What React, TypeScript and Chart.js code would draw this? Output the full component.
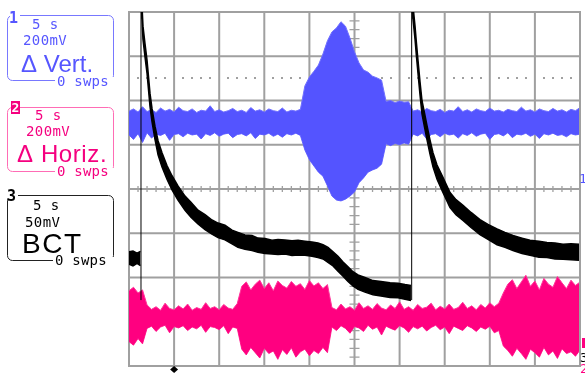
import React, { useEffect, useRef } from 'react';
import { Chart, registerables } from 'chart.js';

Chart.register(...registerables);

// ---------------- data (x: seconds, 5 s/div; y: divisions from centre) ----------------
const TIME_S = Array.from({ length: 101 }, (_, i) => i * 0.5);

// Channel 1 (Δ Vert.) noise envelope
const CH1_HI = [
  1.76, 1.81, 1.74, 1.86, 1.75, 1.79, 1.73, 1.83, 1.76, 1.80,
  1.74, 1.85, 1.77, 1.75, 1.81, 1.73, 1.78, 1.76, 1.88, 1.75,
  1.79, 1.74, 1.77, 1.82, 1.75, 1.78, 1.73, 1.84, 1.76, 1.79,
  1.74, 1.81, 1.77, 1.75, 1.83, 1.74, 1.78, 1.76, 1.80,
  2.33, 2.53, 2.66, 2.80, 3.05, 3.35, 3.55, 3.64, 3.78, 3.68, 3.41, 3.10, 2.85, 2.69, 2.64, 2.55, 2.51, 2.46,
  1.98, 2.00, 1.95, 1.99, 1.96, 1.97,
  1.76, 1.79, 1.74, 1.82, 1.77, 1.75, 1.80, 1.73, 1.78, 1.76,
  1.86, 1.75, 1.79, 1.74, 1.81, 1.77, 1.75, 1.83, 1.76, 1.78,
  1.74, 1.80, 1.77, 1.75, 1.85, 1.76, 1.79, 1.74, 1.81, 1.77,
  1.75, 1.82, 1.76, 1.79, 1.74, 1.80, 1.77, 1.84,
];
const CH1_LO = [
  1.22, 1.12, 1.25, 1.05, 1.27, 1.15, 1.24, 1.21, 1.26, 1.10,
  1.23, 1.25, 1.18, 1.26, 1.22, 1.24, 1.13, 1.25, 1.21, 1.27,
  1.19, 1.24, 1.26, 1.16, 1.23, 1.25, 1.20, 1.27, 1.14, 1.24,
  1.22, 1.26, 1.19, 1.24, 1.17, 1.25, 1.22, 1.26, 1.21,
  0.88, 0.66, 0.52, 0.38, 0.29, 0.07, -0.16, -0.25, -0.27, -0.23, -0.16, -0.07, 0.14, 0.25, 0.38, 0.43, 0.47, 0.56,
  1.02, 0.98, 1.03, 1.00, 1.04, 1.01,
  1.24, 1.20, 1.26, 1.13, 1.23, 1.25, 1.18, 1.26, 1.22, 1.24,
  1.15, 1.25, 1.21, 1.27, 1.19, 1.24, 1.26, 1.12, 1.23, 1.25,
  1.20, 1.27, 1.16, 1.24, 1.22, 1.26, 1.19, 1.24, 1.14, 1.25,
  1.22, 1.26, 1.21, 1.23, 1.18, 1.25, 1.22, 1.24,
];

// Channel 2 (Δ Horiz.) noise envelope
const CH2_HI = [
  -2.30, -2.22, -2.35, -2.28,
  -2.62, -2.72, -2.66, -2.74, -2.58, -2.70, -2.73, -2.64, -2.71, -2.60, -2.74, -2.68, -2.72, -2.57, -2.70, -2.66, -2.73, -2.61, -2.69, -2.72, -2.59,
  -2.20, -2.10, -2.28, -2.15, -2.06, -2.25, -2.12, -2.30, -2.08, -2.18, -2.24, -2.09, -2.20, -2.14, -2.27, -2.07, -2.19, -2.12, -2.25, -2.16,
  -2.68, -2.73, -2.60, -2.71, -2.66, -2.74, -2.57, -2.70, -2.64, -2.72, -2.59, -2.69, -2.73, -2.62, -2.70, -2.55, -2.72, -2.66, -2.74, -2.61,
  -2.70, -2.67, -2.58, -2.73, -2.65, -2.71, -2.60, -2.72, -2.68, -2.56, -2.70, -2.64, -2.73, -2.61, -2.69, -2.57, -2.66, -2.58, -2.35,
  -2.15, -2.05, -2.25, -2.10, -1.95, -2.20, -2.08, -2.28, -2.02, -2.15, -2.22, -1.98, -2.12, -2.25, -2.06, -2.18, -2.10,
];
const CH2_LO = [
  -3.45, -3.53, -3.38, -3.50,
  -3.15, -3.10, -3.22, -3.12, -3.08, -3.25, -3.11, -3.14, -3.09, -3.20, -3.12, -3.16, -3.08, -3.24, -3.11, -3.13, -3.18, -3.09, -3.27, -3.12, -3.15,
  -3.62, -3.75, -3.58, -3.70, -3.82, -3.60, -3.72, -3.66, -3.85, -3.63, -3.74, -3.59, -3.80, -3.68, -3.62, -3.77, -3.65, -3.72, -3.58, -3.70,
  -3.12, -3.20, -3.09, -3.15, -3.26, -3.11, -3.14, -3.22, -3.08, -3.17, -3.12, -3.30, -3.10, -3.15, -3.19, -3.09, -3.14, -3.24, -3.11, -3.16,
  -3.10, -3.21, -3.13, -3.08, -3.18, -3.12, -3.27, -3.10, -3.15, -3.20, -3.09, -3.14, -3.22, -3.12, -3.17, -3.10, -3.25, -3.20, -3.55,
  -3.65, -3.78, -3.60, -3.72, -3.85, -3.62, -3.70, -3.80, -3.58, -3.75, -3.66, -3.83, -3.61, -3.72, -3.68, -3.78, -3.64,
];

// Channel 3 (BCT) — before first injection
const BCT_PRE_T = [0, 0.44, 0.89, 1.27];
const BCT_PRE_HI = [-1.42, -1.40, -1.45, -1.41];
const BCT_PRE_LO = [-1.70, -1.74, -1.68, -1.73];

// BCT — first fill decay
const BCT_A_T = [
  1.36, 1.44, 1.55, 1.77, 2.00, 2.33, 2.55, 2.88, 3.22, 3.66,
  4.21, 4.77, 5.43, 6.21, 6.87, 7.65, 8.43, 9.20, 9.87, 10.64,
  11.42, 12.08, 12.86, 13.64, 14.30, 15.08, 15.85, 16.52, 17.29, 18.07,
  18.74, 19.51, 20.29, 20.95, 21.51, 22.06, 22.62, 23.17, 23.73, 24.28,
  24.83, 25.39, 26.16, 27.05, 27.94, 28.94, 29.82, 30.60, 31.26,
];
const BCT_A_HI = [
  4.87, 4.15, 3.68, 3.29, 2.91, 2.16, 1.82, 1.42, 1.09, 0.82,
  0.53, 0.30, 0.07, -0.16, -0.30, -0.48, -0.58, -0.70, -0.77, -0.82,
  -0.93, -0.98, -1.04, -1.05, -1.11, -1.12, -1.16, -1.14, -1.15, -1.17,
  -1.16, -1.18, -1.20, -1.22, -1.26, -1.32, -1.42, -1.52, -1.65, -1.76,
  -1.87, -1.94, -2.00, -2.07, -2.09, -2.12, -2.13, -2.16, -2.18,
];
const BCT_A_LO = [
  4.57, 3.85, 3.38, 2.99, 2.61, 1.86, 1.52, 1.12, 0.77, 0.50,
  0.22, -0.02, -0.25, -0.48, -0.64, -0.79, -0.92, -1.02, -1.10, -1.15,
  -1.24, -1.32, -1.36, -1.39, -1.43, -1.46, -1.47, -1.48, -1.47, -1.50,
  -1.49, -1.50, -1.52, -1.55, -1.58, -1.66, -1.74, -1.86, -1.97, -2.09,
  -2.19, -2.27, -2.33, -2.39, -2.42, -2.45, -2.46, -2.49, -2.52,
];

// BCT — second fill decay
const BCT_B_T = [
  31.40, 31.48, 31.71, 31.87, 32.04, 32.26, 32.48, 32.76, 33.04, 33.37,
  33.70, 34.15, 34.70, 35.59, 36.25, 37.03, 37.92, 38.91, 39.80, 40.80,
  41.68, 42.57, 43.57, 44.46, 45.45, 46.34, 47.23, 48.12, 49.00, 49.89,
];
const BCT_B_HI = [
  4.87, 4.15, 3.68, 3.29, 2.91, 2.43, 2.00, 1.72, 1.43, 1.11,
  0.82, 0.54, 0.31, -0.08, -0.24, -0.37, -0.53, -0.69, -0.80, -0.90,
  -0.98, -1.05, -1.11, -1.16, -1.18, -1.21, -1.22, -1.25, -1.24, -1.25,
];
const BCT_B_LO = [
  4.57, 3.85, 3.38, 2.99, 2.61, 2.13, 1.70, 1.40, 1.11, 0.79,
  0.50, 0.22, -0.03, -0.42, -0.58, -0.71, -0.87, -1.03, -1.14, -1.26,
  -1.32, -1.39, -1.46, -1.50, -1.54, -1.55, -1.58, -1.59, -1.60, -1.61,
];

// injection kicks (thin vertical BCT lines)
const INJECTION_T = [1.33, 31.34];
const INJECTION_SPAN = [-2.51, 4.72];
const TRIGGER_T = 5;
const DOTTED_LEVEL = 2.5;

// channel panel texts
const CHANNEL_IDS = ['1', '2', '3'];
const CHANNEL_TIMEBASE = ['5 s', '5 s', '5 s'];
const CHANNEL_SCALE = ['200mV', '200mV', '50mV'];
const CHANNEL_NAMES = ['Δ Vert.', 'Δ Horiz.', 'BCT'];
const CHANNEL_SWEEPS = ['0 swps', '0 swps', '0 swps'];

// ---------------- styles / layout ----------------
const BLUE = '#5454ff';
const PINK = '#ff0080';
const GRID = '#a0a0a0';
const MONO = '"DejaVu Sans Mono", monospace';
const SANS = '"Liberation Sans", Arial, sans-serif';

const PANEL = [
  { top: 15, bottom: 80, border: '#7878ff', text: '#5656ff', inverse: false, idX: 11, idBase: 23,
    tbX: 32, tbBase: 29, scX: 23, scBase: 45, nmX: 21, nmBase: 72, nmSize: 24, nmSp: 0, swX: 57, swBase: 86 },
  { top: 107, bottom: 171, border: '#ff6cb5', text: '#f5007f', inverse: true, idX: 12, idBase: 112,
    tbX: 35, tbBase: 120, scX: 26, scBase: 136, nmX: 17, nmBase: 162, nmSize: 24, nmSp: 0.6, swX: 57, swBase: 176 },
  { top: 195, bottom: 260, border: '#222222', text: '#000000', inverse: false, idX: 9, idBase: 201,
    tbX: 33, tbBase: 210, scX: 25, scBase: 227, nmX: 22, nmBase: 253, nmSize: 28, nmSp: 1.5, swX: 55, swBase: 265 },
];

function pts(t: number[], v: number[]) {
  return t.map((x, i) => ({ x, y: v[i] }));
}

function band(label: string, t: number[], hi: number[], lo: number[], fillColor: string, edge: string, w: number) {
  return [
    { label: label + ' max', data: pts(t, hi), borderColor: edge, borderWidth: w, backgroundColor: fillColor, fill: '+1', pointRadius: 0 },
    { label: label + ' min', data: pts(t, lo), borderColor: edge, borderWidth: w, backgroundColor: fillColor, fill: false, pointRadius: 0 },
  ];
}

const scopePlugin = {
  id: 'scope',
  beforeDraw(chart: any) {
    const { ctx, chartArea: a, scales } = chart;
    const x = scales.x, y = scales.y;
    ctx.save();
    ctx.fillStyle = '#ffffff';
    ctx.fillRect(0, 0, chart.width, chart.height);
    ctx.strokeStyle = GRID;
    ctx.lineWidth = 2;
    ctx.beginPath();
    for (let k = 0; k <= 10; k++) {
      const px = x.getPixelForValue(k * 5);
      ctx.moveTo(px, a.top);
      ctx.lineTo(px, a.bottom);
    }
    for (let k = -4; k <= 4; k++) {
      const py = y.getPixelForValue(k);
      ctx.moveTo(a.left, py);
      ctx.lineTo(a.right, py);
    }
    ctx.stroke();
    ctx.strokeRect(a.left, a.top, a.right - a.left, a.bottom - a.top);
    // centre-axis minor ticks
    ctx.lineWidth = 1.3;
    ctx.beginPath();
    const cy = y.getPixelForValue(0);
    const cx = x.getPixelForValue(25);
    for (let t = 1; t < 50; t++) {
      if (t % 5 === 0) continue;
      const px = x.getPixelForValue(t);
      ctx.moveTo(px, cy - 3);
      ctx.lineTo(px, cy + 3);
    }
    for (let k = -19; k <= 19; k++) {
      if (k % 5 === 0) continue;
      const py = y.getPixelForValue(k * 0.2);
      ctx.moveTo(cx - 5, py);
      ctx.lineTo(cx + 5, py);
    }
    ctx.stroke();
    // dotted reference line
    ctx.fillStyle = GRID;
    const dy = y.getPixelForValue(DOTTED_LEVEL);
    for (let t = 1; t < 50; t++) {
      if (t % 5 === 0) continue;
      const px = x.getPixelForValue(t);
      ctx.fillRect(Math.round(px) - 1, Math.round(dy) - 1, 2, 2);
    }
    ctx.restore();
  },
  afterDatasetsDraw(chart: any) {
    const { ctx, chartArea: a } = chart;
    ctx.save();
    ctx.strokeStyle = GRID;
    ctx.lineWidth = 2;
    ctx.beginPath();
    ctx.moveTo(a.right, a.top);
    ctx.lineTo(a.right, a.bottom);
    ctx.stroke();
    ctx.restore();
  },
  afterDraw(chart: any) {
    const { ctx, scales, chartArea: a } = chart;
    const x = scales.x;
    ctx.save();
    // trigger marker
    const tx = x.getPixelForValue(TRIGGER_T);
    ctx.fillStyle = '#000';
    ctx.beginPath();
    ctx.moveTo(tx, a.bottom);
    ctx.lineTo(tx + 4, a.bottom + 3.5);
    ctx.lineTo(tx, a.bottom + 7);
    ctx.lineTo(tx - 4, a.bottom + 3.5);
    ctx.closePath();
    ctx.fill();
    // right-edge channel markers
    ctx.font = `13px ${MONO}`;
    ctx.textBaseline = 'alphabetic';
    ctx.fillStyle = BLUE;
    ctx.fillText('1', 579, 183);
    ctx.fillStyle = '#000';
    ctx.fillText('3', 580, 362);
    ctx.fillStyle = PINK;
    ctx.fillText('2', 580, 373);
    ctx.fillRect(582, 338, 3, 10);

    // channel panel
    PANEL.forEach((p, i) => {
      ctx.strokeStyle = p.border;
      ctx.lineWidth = 1;
      ctx.beginPath();
      ctx.roundRect(7.5, p.top + 0.5, 106, p.bottom - p.top, 5);
      ctx.stroke();
      // channel id
      ctx.font = `bold 15px ${MONO}`;
      (ctx as any).letterSpacing = '0px';
      if (p.inverse) {
        ctx.fillStyle = p.text;
        ctx.fillRect(11, p.top - 6, 9, 13);
        ctx.fillStyle = '#fff';
        ctx.font = `bold 13px ${MONO}`;
        ctx.fillText(CHANNEL_IDS[i], p.idX - 0.5, p.idBase);
      } else {
        ctx.fillStyle = '#fff';
        ctx.fillRect(p.idX - 1, p.top - 3, 10, 6);
        ctx.fillStyle = p.text;
        ctx.fillText(CHANNEL_IDS[i], p.idX - 2, p.idBase);
      }
      // small texts
      ctx.fillStyle = p.text;
      ctx.font = `14px ${MONO}`;
      (ctx as any).letterSpacing = '0.4px';
      ctx.fillText(CHANNEL_TIMEBASE[i], p.tbX, p.tbBase);
      ctx.fillText(CHANNEL_SCALE[i], p.scX, p.scBase);
      // big name
      ctx.font = `${p.nmSize}px ${SANS}`;
      (ctx as any).letterSpacing = `${p.nmSp}px`;
      ctx.fillText(CHANNEL_NAMES[i], p.nmX, p.nmBase);
      // sweeps, breaking the bottom border
      ctx.fillStyle = '#fff';
      ctx.fillRect(p.swX - 2, p.bottom - 3, 116 - p.swX, 6);
      ctx.fillStyle = p.text;
      ctx.font = `14px ${MONO}`;
      (ctx as any).letterSpacing = '0.2px';
      ctx.fillText(CHANNEL_SWEEPS[i], p.swX, p.swBase);
    });
    (ctx as any).letterSpacing = '0px';
    ctx.restore();
  },
};

export default function App() {
  const ref = useRef<HTMLCanvasElement>(null);
  useEffect(() => {
    const canvas = ref.current;
    if (!canvas) return;
    const injections = INJECTION_T.map((t, i) => ({
      label: 'injection ' + (i + 1),
      data: [{ x: t, y: INJECTION_SPAN[0] }, { x: t, y: INJECTION_SPAN[1] }],
      borderColor: '#000',
      borderWidth: 1,
      fill: false,
      pointRadius: 0,
    }));
    const datasets: any[] = [
      ...injections,
      ...band('BCT pre', BCT_PRE_T, BCT_PRE_HI, BCT_PRE_LO, '#000', '#000', 1.5),
      ...band('BCT fill 1', BCT_A_T, BCT_A_HI, BCT_A_LO, '#000', '#000', 1.5),
      ...band('BCT fill 2', BCT_B_T, BCT_B_HI, BCT_B_LO, '#000', '#000', 1.5),
      ...band('Δ Horiz.', TIME_S, CH2_HI, CH2_LO, PINK, '#ff3399', 1),
      ...band('Δ Vert.', TIME_S, CH1_HI, CH1_LO, BLUE, '#7070ff', 1),
    ];
    const chart = new Chart(canvas, {
      type: 'line',
      data: { datasets },
      options: {
        animation: false,
        responsive: false,
        events: [],
        layout: { padding: { left: 129, right: 5, top: 12, bottom: 7 } },
        elements: { line: { tension: 0 }, point: { radius: 0 } },
        plugins: { legend: { display: false }, tooltip: { enabled: false } },
        scales: {
          x: { type: 'linear', min: 0, max: 50, display: false },
          y: { type: 'linear', min: -4, max: 4, display: false },
        },
      },
      plugins: [scopePlugin],
    } as any);
    return () => chart.destroy();
  }, []);
  return (
    <div style={{ position: 'fixed', left: 0, top: 0, width: 585, height: 373, background: '#fff' }}>
      <canvas ref={ref} width={585} height={373} style={{ display: 'block', width: 585, height: 373 }} />
    </div>
  );
}
